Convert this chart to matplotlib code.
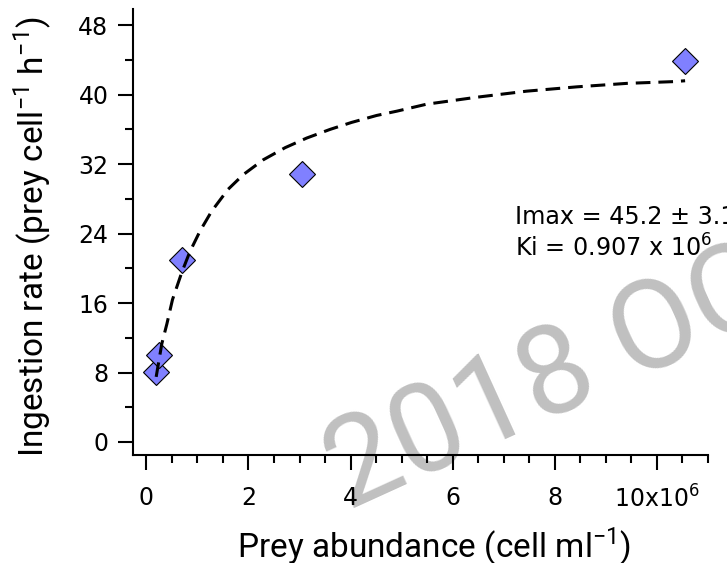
import numpy as np
import matplotlib
matplotlib.use("Agg")
import matplotlib.pyplot as plt
from matplotlib import font_manager

# prey abundance (x10^6 cells/ml) and ingestion rate
prey = [0.19, 0.245, 0.69, 3.04, 10.56]
ingestion = [8.1, 10.0, 21.0, 30.85, 43.9]

# fitted curve
fit_x = [0.19, 0.30, 0.40, 0.51, 0.69, 0.85, 1.05, 1.28, 1.60, 1.90, 2.29, 2.72,
         3.14, 3.60, 4.02, 4.51, 4.91, 5.49, 6.47, 7.45, 8.44, 9.42, 10.33, 10.56]
fit_y = [7.5, 11.3, 13.6, 16.4, 19.5, 21.9, 24.3, 26.6, 29.1, 30.8, 32.5, 33.9,
         35.0, 36.0, 36.8, 37.6, 38.1, 38.9, 39.7, 40.4, 40.9, 41.3, 41.5, 41.6]

xticks = [0, 2, 4, 6, 8, 10]
xticklabels = ["0", "2", "4", "6", "8", r"10x10$^{\mathsf{6}}$"]
yticks = [0, 8, 16, 24, 32, 40, 48]

names = {f.name for f in font_manager.fontManager.ttflist}
label_font = 'Liberation Sans Narrow' if 'Liberation Sans Narrow' in names else 'Roboto'
tick_font = 'DejaVu Sans'

plt.rcParams['mathtext.fontset'] = 'custom'
plt.rcParams['mathtext.rm'] = label_font
plt.rcParams['mathtext.sf'] = 'DejaVu Sans'

fig = plt.figure(figsize=(7.27, 5.63), dpi=100)
ax = fig.add_axes([0.1836, 0.1918, 0.790, 0.792])
ax.set_facecolor('none')

# watermark behind everything
fig.text(0.478, 0.092, "2018 OCT", fontsize=90, family='Roboto', color='#c0c0c0',
         rotation=24.5, rotation_mode='anchor', ha='left', va='baseline', zorder=-5)

ax.plot(prey, ingestion, linestyle='none', marker='D', markersize=13.5,
        markerfacecolor='#8080ff', markeredgecolor='black', markeredgewidth=0.8,
        zorder=3, clip_on=False)
ax.plot(fit_x, fit_y, color='black', linewidth=2.2, dashes=(4.8, 2.6), zorder=4)

ax.set_xlim(-0.255, 11.005)
ax.set_ylim(-1.5, 49.85)

for s in ['top', 'right']:
    ax.spines[s].set_visible(False)
for s in ['left', 'bottom']:
    ax.spines[s].set_linewidth(1.5)

ax.set_xticks(xticks)
ax.set_xticklabels(xticklabels)
ax.set_xticks(np.arange(0, 11.01, 0.5), minor=True)
ax.set_yticks(yticks)
ax.set_yticks(np.arange(0, 49, 4), minor=True)

ax.tick_params(which='major', direction='out', length=11, width=1.5, labelsize=17)
ax.tick_params(which='minor', direction='out', length=5.5, width=1.5)
ax.tick_params(axis='x', which='major', pad=11)
ax.tick_params(axis='y', which='major', pad=7)
for t in ax.get_xticklabels() + ax.get_yticklabels():
    t.set_family(tick_font)

ax.set_xlabel(r"Prey abundance (cell ml$^{\mathrm{-1}}$)", family=label_font, fontsize=24)
ax.set_ylabel(r"Ingestion rate (prey cell$^{\mathrm{-1}}$ h$^{\mathrm{-1}}$)", family=label_font, fontsize=24)
ax.xaxis.set_label_coords(0.524, -0.158)
ax.yaxis.set_label_coords(-0.14, 0.49)

ax.text(0.664, 0.518, "Imax = 45.2 ± 3.1", transform=ax.transAxes, fontsize=17.2,
        family=tick_font, va='baseline', ha='left', clip_on=False)
ax.text(0.664, 0.444, r"Ki = 0.907 x 10$^{\mathsf{6}}$", transform=ax.transAxes, fontsize=17.2,
        family=tick_font, va='baseline', ha='left', clip_on=False)

fig.savefig("out.png", dpi=100)
